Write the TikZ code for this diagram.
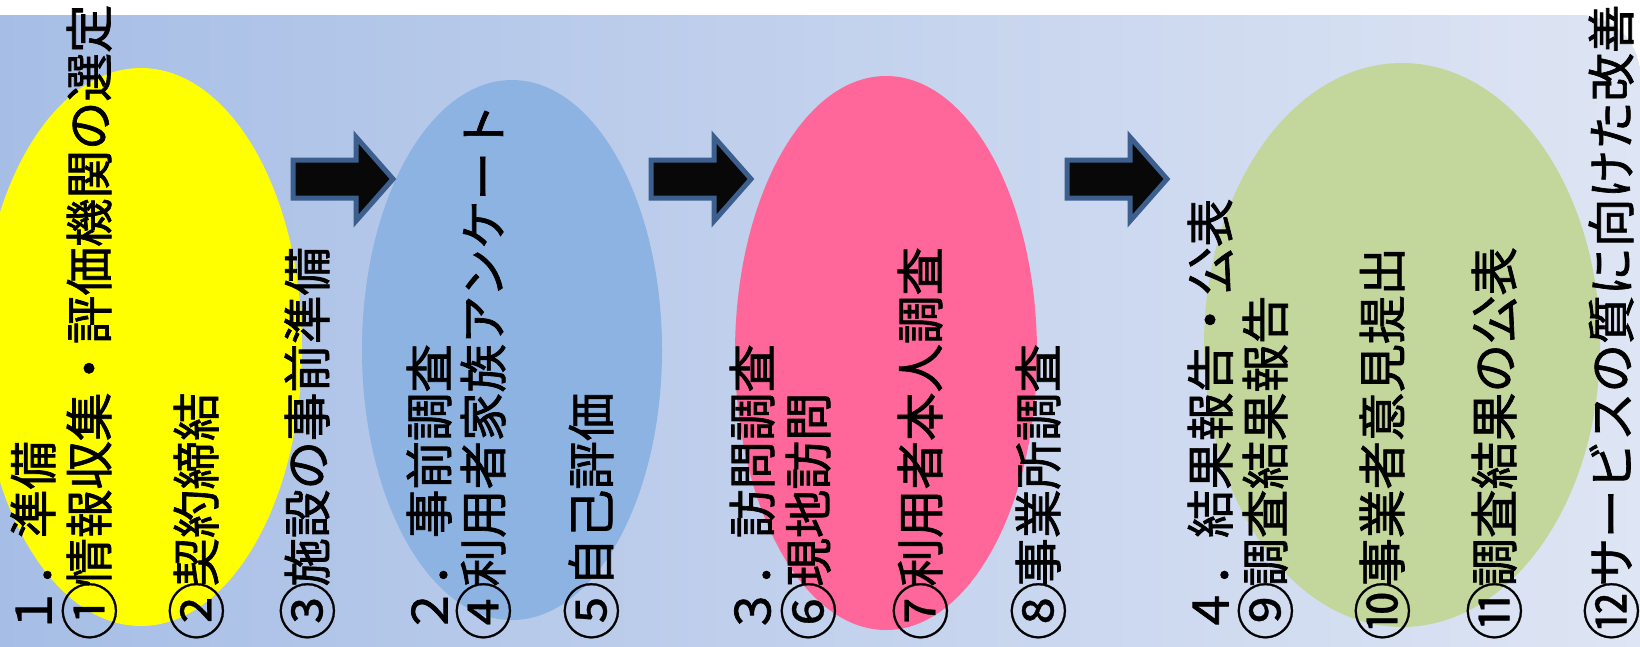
\documentclass[tikz,border=0pt]{standalone}
\usepackage{fontspec}
\usepackage{graphicx}
\newfontfamily\jp[FakeBold=1.4]{Noto Sans CJK JP}
\newfontfamily\jpcirc[FakeBold=0.5]{Noto Sans CJK JP}
\usetikzlibrary{shapes.geometric}
\definecolor{bgL}{RGB}{164,188,229}
\definecolor{bgR}{RGB}{222,229,244}
\definecolor{yel}{RGB}{255,255,0}
\definecolor{blu}{RGB}{141,179,226}
\definecolor{pnk}{RGB}{255,102,153}
\definecolor{grn}{RGB}{195,214,155}
\definecolor{arrowline}{RGB}{60,95,142}
\definecolor{arrowfill}{RGB}{8,8,8}
\newcommand\cnum[1]{\makebox[1em]{\raisebox{-4.4pt}{\scalebox{1.22}{\jpcirc #1}}}}
\tikzset{
  stage/.style={ellipse, inner sep=0pt, outer sep=0pt, draw=none},
  lbl/.style={rotate=90, anchor=west, inner sep=0pt, outer sep=0pt,
    text height=42.7pt, text depth=5.8pt, font=\jp\fontsize{48.5}{58}\selectfont},
  blkarrow/.style={draw=arrowline, fill=arrowfill, line width=5pt, line join=miter},
}
\newcommand\stagearrow[2]{%
  \coordinate (#1) at (#2,179);
  \draw[blkarrow] (#1) ++(0,-19) -- ++(63,0) -- ++(0,-23) -- ++(37,42)
    -- ++(-37,42) -- ++(0,-23) -- ++(-63,0) -- cycle;
}
\begin{document}
\begin{tikzpicture}[x=1pt,y=-1pt]
\useasboundingbox (0,0) rectangle (1640,646);
\clip (0,0) rectangle (1640,646);
\shade[left color=bgL, right color=bgR, rounded corners=60pt] (-60,15) rectangle (1640,760);

\node[stage, fill=yel, minimum width=322pt, minimum height=558pt] (prep) at (141,347) {};
\node[stage, fill=blu, minimum width=300pt, minimum height=540pt] (pre) at (512,350) {};
\node[stage, fill=pnk, minimum width=302pt, minimum height=554pt] (visit) at (886,353) {};
\node[stage, fill=grn, minimum width=396pt, minimum height=564pt] (report) at (1402,345) {};

\stagearrow{a1}{293}
\stagearrow{a2}{651}
\stagearrow{a3}{1067}

\node[lbl] (t1) at (33,635) {１．準備};
\node[lbl] (t2) at (89,635) {\cnum{①}情報収集・評価機関の選定};
\node[lbl] (t3) at (196,635) {\cnum{②}契約締結};
\node[lbl] (t4) at (307,635) {\cnum{③}施設の事前準備};
\node[lbl] (t5) at (429,635) {２．事前調査};
\node[lbl] (t6) at (483,635) {\cnum{④}利用者家族アンケート};
\node[lbl] (t7) at (591,635) {\cnum{⑤}自己評価};
\node[lbl] (t8) at (752,635) {３．訪問調査};
\node[lbl] (t9) at (808,635) {\cnum{⑥}現地訪問};
\node[lbl] (t10) at (920,635) {\cnum{⑦}利用者本人調査};
\node[lbl] (t11) at (1038,635) {\cnum{⑧}事業所調査};
\node[lbl] (t12) at (1210,635) {４．結果報告・公表};
\node[lbl] (t13) at (1265,635) {\cnum{⑨}調査結果報告};
\node[lbl] (t14) at (1382,635) {\cnum{⑩}事業者意見提出};
\node[lbl] (t15) at (1494,635) {\cnum{⑪}調査結果の公表};
\node[lbl] (t16) at (1611,635) {\cnum{⑫}サービスの質に向けた改善};
\end{tikzpicture}
\end{document}
